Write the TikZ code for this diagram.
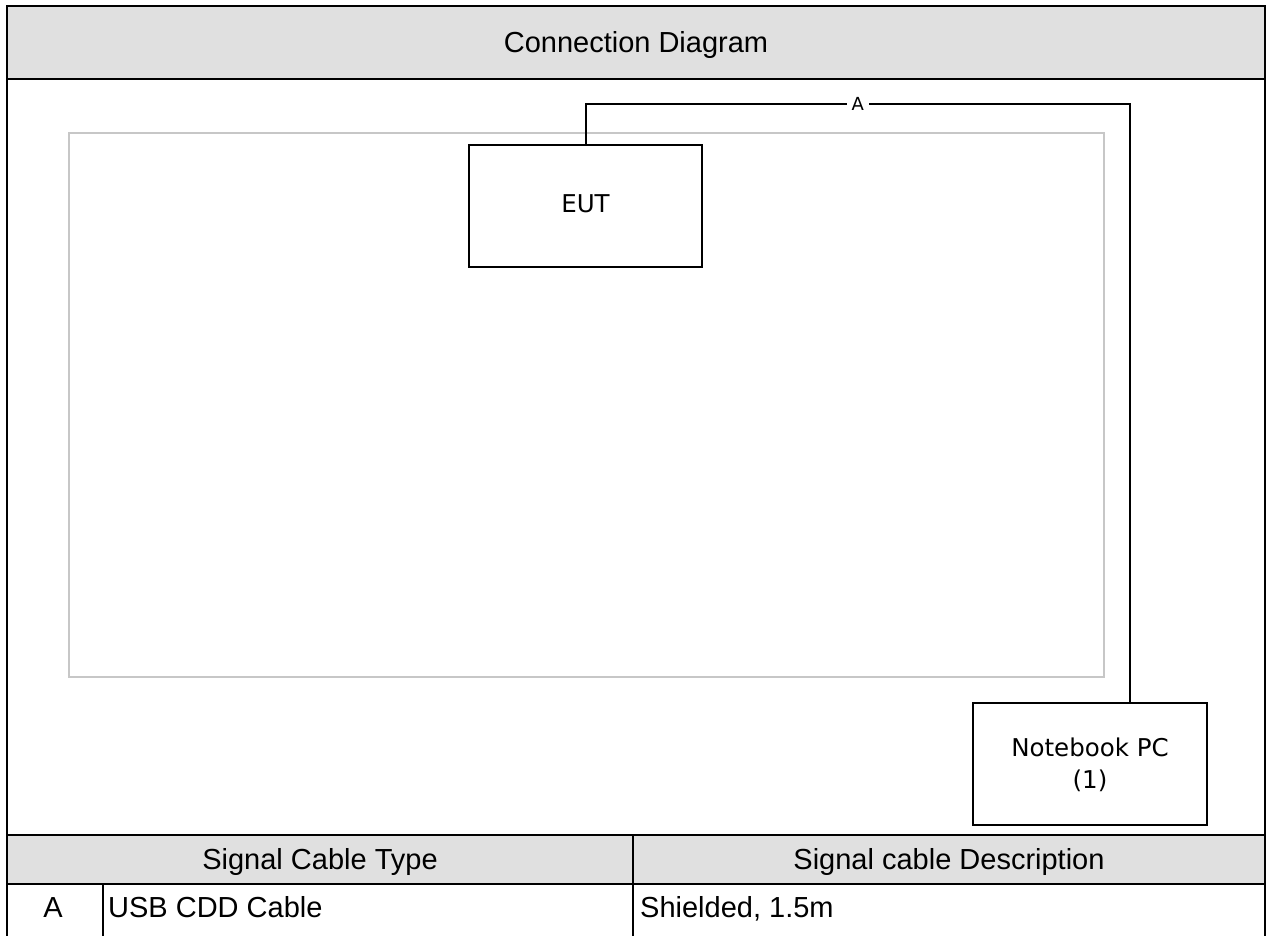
\documentclass[tikz,border=0pt]{standalone}
\usepackage{fontspec}
\setmainfont{Liberation Sans}
\newfontfamily\devfont{DejaVu Sans}
\begin{document}
\begin{tikzpicture}[x=1pt,y=-1pt,
  frame/.style={line width=2pt, draw=black},
  headfill/.style={fill=black!12},
  celltext/.style={inner sep=0pt, font=\fontsize{29}{34}\selectfont},
  unitbox/.style={draw=black, line width=2pt, rectangle, inner sep=0pt},
  unittext/.style={inner sep=0pt, font=\devfont\fontsize{24.5}{32}\selectfont},
  cable/.style={line width=2pt, draw=black},
  cablelabel/.style={fill=white, inner sep=5pt, font=\devfont\fontsize{18}{20}\selectfont},
  area/.style={draw=black!22, line width=1.2pt}]
\useasboundingbox (0,0) rectangle (1267,936);
\fill[white] (0,0) rectangle (1267,936);

% grey header bands
\fill[headfill] (7,6) rectangle (1265,79);
\fill[headfill] (7,835) rectangle (1265,884);

% test table area
\draw[area] (69,133) rectangle (1104,677);

% outer frame and table rules
\draw[frame] (7,936) -- (7,6) -- (1265,6) -- (1265,936);
\draw[frame] (7,79) -- (1265,79);
\draw[frame] (7,835) -- (1265,835);
\draw[frame] (7,884) -- (1265,884);
\draw[frame] (633,835) -- (633,936);
\draw[frame] (103,884) -- (103,936);

% texts of the frame
\node[celltext, anchor=base] (title) at (636,53) {Connection Diagram};
\node[celltext, anchor=base] (typehead) at (320,869) {Signal Cable Type};
\node[celltext, anchor=base] (deschead) at (949,869) {Signal cable Description};
\node[celltext, anchor=base] (rowid) at (53,917) {A};
\node[celltext, anchor=base west] (rowtype) at (108,917) {USB CDD Cable};
\node[celltext, anchor=base west] (rowdesc) at (640,917) {Shielded, 1.5m};

% units
\node[unitbox, minimum width=233pt, minimum height=122pt] (eut) at (585.5,206) {};
\node[unittext, anchor=base] (euttext) at (585.5,213) {EUT};
\node[unitbox, minimum width=234pt, minimum height=122pt] (nb) at (1090,764) {};
\node[unittext, anchor=base] (nbtext1) at (1090,756) {Notebook PC};
\node[unittext, anchor=base] (nbtext2) at (1090,788) {(1)};

% cable A
\coordinate (bend) at (1130,104);
\draw[cable] (eut.north) |- node[cablelabel, pos=0.75] (alabel) {A} (bend) -- (bend |- nb.north);
\end{tikzpicture}
\end{document}
